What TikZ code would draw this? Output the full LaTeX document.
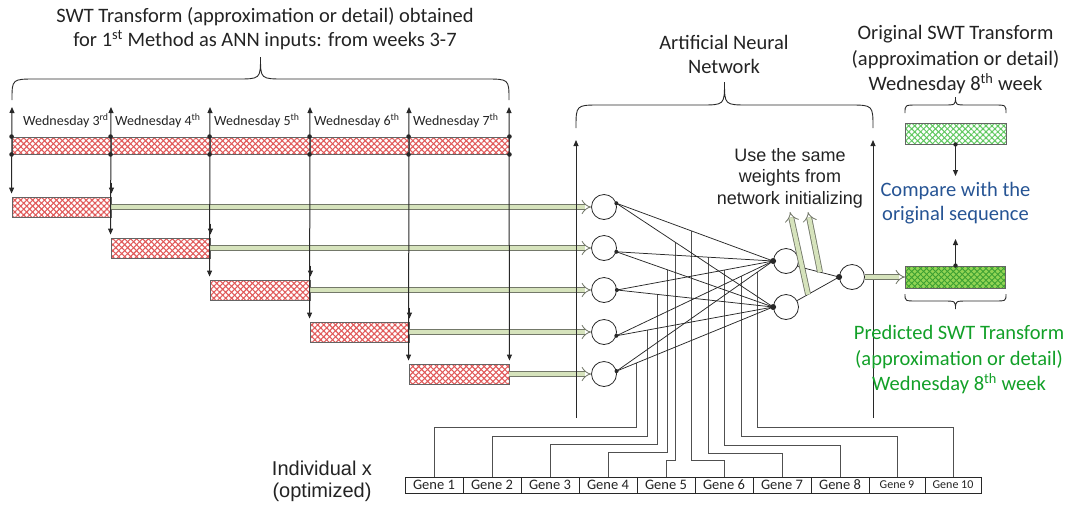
\documentclass[tikz,border=0pt]{standalone}
\usepackage{fontspec}
\setmainfont{Carlito}
\newfontfamily\arialf{Liberation Sans}
\usetikzlibrary{arrows.meta,patterns.meta,calc}
\definecolor{txt}{RGB}{35,35,35}
\definecolor{ln}{RGB}{40,40,40}
\definecolor{wirec}{RGB}{80,80,80}
\definecolor{boxedge}{RGB}{100,100,100}
\definecolor{hatchred}{RGB}{225,90,90}
\definecolor{palegreen}{RGB}{214,227,188}
\definecolor{arrowedge}{RGB}{115,120,105}
\definecolor{cmpblue}{RGB}{38,84,148}
\definecolor{predgreen}{RGB}{18,160,40}
\definecolor{predfill}{RGB}{146,212,84}
\definecolor{predhatch}{RGB}{60,160,50}
\definecolor{orighatch}{RGB}{95,200,95}
\newcommand\hbrace[6]{%
  \pgfmathsetmacro\bxm{(#1+#2)/2}%
  \draw[bracestyle] (#1,#3) .. controls (#1,#4) .. (#1+#6,#4) -- (\bxm-#6,#4)
    .. controls (\bxm,#4) .. (\bxm,#5) .. controls (\bxm,#4) .. (\bxm+#6,#4)
    -- (#2-#6,#4) .. controls (#2,#4) .. (#2,#3);}
\begin{document}
\begin{tikzpicture}[x=1pt,y=-1pt,
  every node/.style={text=txt},
  bracestyle/.style={draw=ln, line width=0.9pt},
  tipa/.style={-{Triangle[length=6pt,width=5pt]}},
  tipb/.style={{Triangle[length=6pt,width=5pt]}-{Triangle[length=6pt,width=5pt]}},
  divider/.style={draw=ln, line width=1pt},
  redbox/.style={rectangle, draw=boxedge, line width=0.9pt, inner sep=0pt,
     preaction={fill=white},
     preaction={pattern={Lines[angle=45,distance=4.2pt,line width=1.1pt]}, pattern color=hatchred},
     preaction={pattern={Lines[angle=-45,distance=4.2pt,line width=1.1pt]}, pattern color=hatchred}},
  origbox/.style={rectangle, draw=boxedge, line width=0.9pt, inner sep=0pt,
     preaction={fill=white},
     preaction={pattern={Lines[angle=45,distance=4.2pt,line width=1pt]}, pattern color=orighatch},
     preaction={pattern={Lines[angle=-45,distance=4.2pt,line width=1pt]}, pattern color=orighatch}},
  predbox/.style={rectangle, draw=boxedge, line width=0.9pt, inner sep=0pt,
     preaction={fill=predfill},
     preaction={pattern={Lines[angle=45,distance=4.2pt,line width=0.9pt]}, pattern color=predhatch},
     preaction={pattern={Lines[angle=-45,distance=4.2pt,line width=0.9pt]}, pattern color=predhatch}},
  garrow/.style={draw=arrowedge, line width=0.85pt, double=palegreen, double distance=4.2pt, -{Implies[scale=1.5]}},
  neuron/.style={circle, draw=ln, line width=0.8pt, minimum size=25pt, inner sep=0pt, fill=white},
  conn/.style={draw=ln, line width=0.75pt},
  wire/.style={draw=wirec, line width=0.9pt},
  gene/.style={rectangle, draw=ln, line width=0.7pt, minimum height=16pt, inner sep=0pt, font=\fontsize{14.5}{14.5}\selectfont},
  genes/.style={gene, font=\fontsize{12}{12}\selectfont},
  wed/.style={anchor=west, inner sep=0pt, font=\fontsize{14}{14}\selectfont},
  big/.style={align=center, font=\fontsize{20.5}{24}\selectfont},
  bigr/.style={align=center, font=\fontsize{20.5}{25.5}\selectfont},
  dot/.style={fill=ln}
]
\useasboundingbox (0,0) rectangle (1070,512);

% ---------- left: title and brace
\node[big] (title) at (265,29)
  {SWT Transform (approximation or detail) obtained\\for 1\textsuperscript{st} Method as ANN inputs: from weeks 3-7};
\hbrace{12}{509}{100}{79}{57}{24}

% band cells
\node[redbox, minimum width=99pt, minimum height=17pt] (c1) at (61.5,145.5) {};
\node[redbox, minimum width=99pt, minimum height=17pt] (c2) at (160.5,145.5) {};
\node[redbox, minimum width=100pt, minimum height=17pt] (c3) at (260,145.5) {};
\node[redbox, minimum width=99pt, minimum height=17pt] (c4) at (359.5,145.5) {};
\node[redbox, minimum width=100pt, minimum height=17pt] (c5) at (459,145.5) {};

% staircase boxes
\node[redbox, minimum width=99pt, minimum height=20pt] (b1) at (61.5,207) {};
\node[redbox, minimum width=99pt, minimum height=20pt] (b2) at (160.5,248) {};
\node[redbox, minimum width=100pt, minimum height=20pt] (b3) at (260,290) {};
\node[redbox, minimum width=99pt, minimum height=20pt] (b4) at (359.5,332) {};
\node[redbox, minimum width=100pt, minimum height=20pt] (b5) at (459,374) {};

% week labels
\node[wed] (w1) at (23,121) {Wednesday 3\textsuperscript{rd}};
\node[wed] (w2) at (115,121) {Wednesday 4\textsuperscript{th}};
\node[wed] (w3) at (214,121) {Wednesday 5\textsuperscript{th}};
\node[wed] (w4) at (314,121) {Wednesday 6\textsuperscript{th}};
\node[wed] (w5) at (413,121) {Wednesday 7\textsuperscript{th}};

% divider tops
\coordinate (t0) at (12,107);
\coordinate (t1) at (111,107);
\coordinate (t2) at (210,107);
\coordinate (t3) at (310,107);
\coordinate (t4) at (409,107);
\coordinate (t5) at (509,107);

% ---------- neurons
\node[neuron] (n1) at (604,207) {};
\node[neuron] (n2) at (604,248) {};
\node[neuron] (n3) at (604,290) {};
\node[neuron] (n4) at (604,332) {};
\node[neuron] (n5) at (604,374) {};
\node[neuron] (h1) at (786,261) {};
\node[neuron] (h2) at (786,307) {};
\node[neuron] (o) at (852,277) {};

% green arrows from boxes to inputs
\draw[garrow] (b1.east) -- (n1.west);
\draw[garrow] (b2.east) -- (n2.west);
\draw[garrow] (b3.east) -- (n3.west);
\draw[garrow] (b4.east) -- (n4.west);
\draw[garrow] (b5.east) -- (n5.west);

% dividers
\draw[divider, tipb, shorten <=3pt] (b1.north west) -- (t0);
\draw[divider, tipb, shorten <=3pt] (b2.north west) -- (t1);
\draw[divider, tipb, shorten <=3pt] (b3.north west) -- (t2);
\draw[divider, tipb, shorten <=3pt] (b4.north west) -- (t3);
\draw[divider, tipb, shorten <=3pt] (b5.north west) -- (t4);
\draw[divider, tipb, shorten <=3pt] (b5.north east) -- (t5);
\draw[divider, tipa] ([yshift=14pt]b1.north east) -- ([yshift=3pt]b1.north east);
\draw[divider, tipa] ([yshift=14pt]b2.north east) -- ([yshift=3pt]b2.north east);
\draw[divider, tipa] ([yshift=14pt]b3.north east) -- ([yshift=3pt]b3.north east);
\draw[divider, tipa] ([yshift=14pt]b4.north east) -- ([yshift=3pt]b4.north east);
\foreach \c in {c1,c2,c3,c4,c5}{
  \fill[dot] (\c.north west) circle (2.3pt);
  \fill[dot] (\c.south west) circle (2.3pt);
}
\fill[dot] (c5.north east) circle (2.3pt);
\fill[dot] (c5.south east) circle (2.3pt);

% ---------- ANN brace, title, frame lines
\node[big] (anntitle) at (724,54) {Artificial Neural\\Network};
\hbrace{576}{873}{128}{105}{82}{24}
\coordinate (fl0) at (576,418);
\coordinate (fl1) at (576,140);
\coordinate (fr0) at (873,418);
\coordinate (fr1) at (873,140);
\draw[divider, tipa] (fl0) -- (fl1);
\draw[divider, tipa] (fr0) -- (fr1);

% ---------- genes
\node[gene, minimum width=58pt] (g1) at (434,485) {Gene 1};
\node[gene, minimum width=58pt] (g2) at (492,485) {Gene 2};
\node[gene, minimum width=58pt] (g3) at (550,485) {Gene 3};
\node[gene, minimum width=58pt] (g4) at (608,485) {Gene 4};
\node[gene, minimum width=58pt] (g5) at (666,485) {Gene 5};
\node[gene, minimum width=58pt] (g6) at (724,485) {Gene 6};
\node[gene, minimum width=58pt] (g7) at (782,485) {Gene 7};
\node[gene, minimum width=58pt] (g8) at (840,485) {Gene 8};
\node[genes, minimum width=56pt] (g9) at (897,485) {Gene 9};
\node[genes, minimum width=56pt] (g10) at (953,485) {Gene 10};
\node[align=center, font=\arialf\fontsize{20}{22}\selectfont] (indiv) at (322,481) {Individual x\\(optimized)};

% weight points on connections
\coordinate (p1) at (intersection of n5.13--h2.west and 636,0--636,500);
\coordinate (p2) at (intersection of n4.-17--h2.west and 647,0--647,500);
\coordinate (p3) at (intersection of n3.0--h2.west and 657,0--657,500);
\coordinate (p4) at (intersection of n2.-17--h2.west and 667,0--667,500);
\coordinate (p5) at (intersection of n1.17--h2.west and 675,0--675,500);
\coordinate (p6) at (intersection of n1.17--h1.west and 691,0--691,500);
\coordinate (p7) at (intersection of n2.-17--h1.west and 708,0--708,500);
\coordinate (p8) at (intersection of n3.0--h1.west and 724,0--724,500);
\coordinate (p9) at (intersection of n4.-17--h1.west and 741,0--741,500);
\coordinate (p10) at (intersection of n5.13--h1.west and 757,0--757,500);

\draw[wire] (g1.north) |- (p1 |- 0,427) -- (p1);
\draw[wire] (g2.north) |- (p2 |- 0,436) -- (p2);
\draw[wire] (g3.north) |- (p3 |- 0,444) -- (p3);
\draw[wire] (g4.north) |- (p4 |- 0,452) -- (p4);
\draw[wire] (g5.north) |- (p5 |- 0,460) -- (p5);
\draw[wire] (g6.north) |- (p6 |- 0,460) -- (p6);
\draw[wire] (g7.north) |- (p7 |- 0,453) -- (p7);
\draw[wire] (g8.north) |- (p8 |- 0,445) -- (p8);
\draw[wire] (g9.north) |- (p9 |- 0,436) -- (p9);
\draw[wire] (g10.north) |- (p10 |- 0,427) -- (p10);

% connections input -> hidden
\draw[conn] (n1.17) -- (h1.west);
\draw[conn] (n1.17) -- (h2.west);
\draw[conn] (n2.-17) -- (h1.west);
\draw[conn] (n2.-17) -- (h2.west);
\draw[conn] (n3.0) -- (h1.west);
\draw[conn] (n3.0) -- (h2.west);
\draw[conn] (n4.-17) -- (h1.west);
\draw[conn] (n4.-17) -- (h2.west);
\draw[conn] (n5.13) -- (h1.west);
\draw[conn] (n5.13) -- (h2.west);
\fill[dot] (n1.17) circle (2pt);
\fill[dot] (n2.-17) circle (2pt);
\fill[dot] (n3.0) circle (2pt);
\fill[dot] (n4.-17) circle (2pt);
\fill[dot] (n5.13) circle (2pt);
\fill[dot] (h1.west) circle (3pt);
\fill[dot] (h2.west) circle (3pt);

% hidden -> output
\draw[conn] (h1.-25) -- (o.west);
\draw[conn] (h2.30) -- (o.west);
\fill[dot] (o.west) circle (3pt);

% same-weights arrows
\node[align=center, font=\arialf\fontsize{18}{21.5}\selectfont] (same) at (790,178) {Use the same\\weights from\\network initializing};
\coordinate (sa0) at (intersection of h2.30--o.west and 808,0--808,500);
\coordinate (sb0) at (intersection of h1.-25--o.west and 820,0--820,500);
\coordinate (sa1) at (790,212);
\coordinate (sb1) at (808,212);
\draw[garrow] (sa0) -- (sa1);
\draw[garrow] (sb0) -- (sb1);

% ---------- right side
\node[bigr] (origtxt) at (955.5,60) {Original SWT Transform\\(approximation or detail)\\Wednesday 8\textsuperscript{th} week};
\hbrace{905}{1006}{113}{105}{97}{12}
\node[origbox, minimum width=101pt, minimum height=21pt] (ob) at (955.5,133.5) {};
\node[big, text=cmpblue] (cmp) at (955.5,203) {Compare with the\\original sequence};
\node[predbox, minimum width=100pt, minimum height=22pt] (pb) at (955.5,277) {};
\hbrace{905}{1006}{294}{301}{309}{12}
\node[bigr, text=predgreen] (predtxt) at (959,360) {Predicted SWT Transform\\(approximation or detail)\\Wednesday 8\textsuperscript{th} week};
\coordinate (cm1) at (955.5,176);
\coordinate (cm2) at (955.5,239);
\draw[divider, tipa] (ob.south) -- (cm1);
\draw[divider, tipa] (pb.north) -- (cm2);
\fill[dot] (ob.south) circle (2.2pt);
\fill[dot] (pb.north) circle (2.2pt);
\draw[garrow] (o.east) -- (pb.west);
\end{tikzpicture}
\end{document}
